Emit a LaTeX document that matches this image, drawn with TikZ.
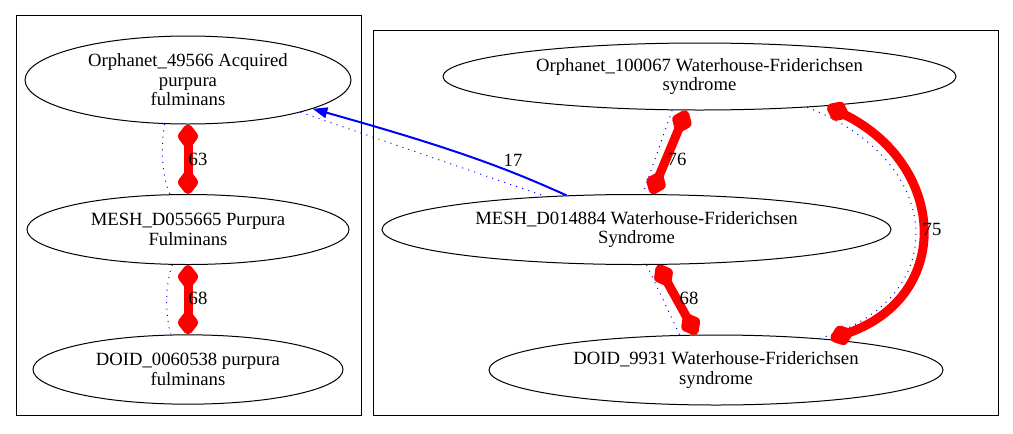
\documentclass[tikz,border=0pt]{standalone}
\usepackage{fontspec}
\setmainfont{Liberation Serif}
\usetikzlibrary{arrows.meta,shapes.geometric}
\begin{document}
\begin{tikzpicture}[x=0.75pt,y=-0.75pt,
  ent/.style={draw=black,line width=0.75pt,ellipse,inner sep=0pt,align=center,font=\fontsize{14pt}{14.6pt}\selectfont},
  clusterbox/.style={draw=black,line width=0.75pt},
  strong/.style={draw=red,line width=6.75pt,{Diamond[length=22pt,width=17pt,round]}-{Diamond[length=22pt,width=17pt,round]}},
  weak/.style={draw=blue,line width=0.75pt,dash pattern=on 0.75pt off 4pt},
  mainedge/.style={draw=blue,line width=1.5pt,-{Triangle[length=11pt,width=8pt]}},
  elabel/.style={font=\fontsize{14pt}{14.6pt}\selectfont,inner sep=0pt}]
\useasboundingbox (0,0) rectangle (1013,433);
% clusters
\draw[clusterbox] (16,15) rectangle (361,415);
\draw[clusterbox] (373,30) rectangle (998,415);
% nodes
\node[ent,minimum width=244.5pt,minimum height=66pt] (o1) at (188,80) {Orphanet\_49566 Acquired\\purpura\\fulminans};
\node[ent,minimum width=241.5pt,minimum height=52.5pt] (m1) at (188,229.5) {MESH\_D055665 Purpura\\Fulminans};
\node[ent,minimum width=232.5pt,minimum height=52pt] (d1) at (188,369.5) {DOID\_0060538 purpura\\fulminans};
\node[ent,minimum width=384.75pt,minimum height=50.25pt] (o2) at (699.5,76.5) {Orphanet\_100067 Waterhouse-Friderichsen\\syndrome};
\node[ent,minimum width=381.75pt,minimum height=52.5pt] (m2) at (636.5,229.5) {MESH\_D014884 Waterhouse-Friderichsen\\Syndrome};
\node[ent,minimum width=340.5pt,minimum height=52.5pt] (d2) at (716,370) {DOID\_9931 Waterhouse-Friderichsen\\syndrome};
% weak dotted edges
\draw[weak] (o1.242.2) .. controls (161,145) and (161,175) .. (m1.117.3);
\draw[weak] (m1.246.7) .. controls (165,285) and (165,315) .. (d1.116.4);
\draw[weak] (o2.231.5) -- (m2.80.3);
\draw[weak] (m2.286) -- (d2.136.1);
\draw[weak] (o2.-16.5) .. controls (945,160) and (955,300) .. (d2.17.2);
\draw[weak] (o1.-16.5) -- (m2.160.7);
% strong edges
\draw[strong] (o1.south) -- (m1.north);
\draw[strong] (m1.south) -- (d1.north);
\draw[strong] (o2.249.5) -- (m2.67.3);
\draw[strong] (m2.-59.9) -- (d2.119);
\draw[strong] (o2.-13.5) .. controls (946,165) and (954,295) .. (d2.15.2);
% main edge
\draw[mainedge] (m2.154.3) .. controls (510,170) and (460,150) .. (o1.-13.9);
% labels
\node[elabel] (l63) at (198,159) {63};
\node[elabel] (l68a) at (198,298) {68};
\node[elabel] (l76) at (677,159) {76};
\node[elabel] (l68b) at (689,298) {68};
\node[elabel] (l75) at (932,229) {75};
\node[elabel] (l17) at (513,160) {17};
\end{tikzpicture}
\end{document}
